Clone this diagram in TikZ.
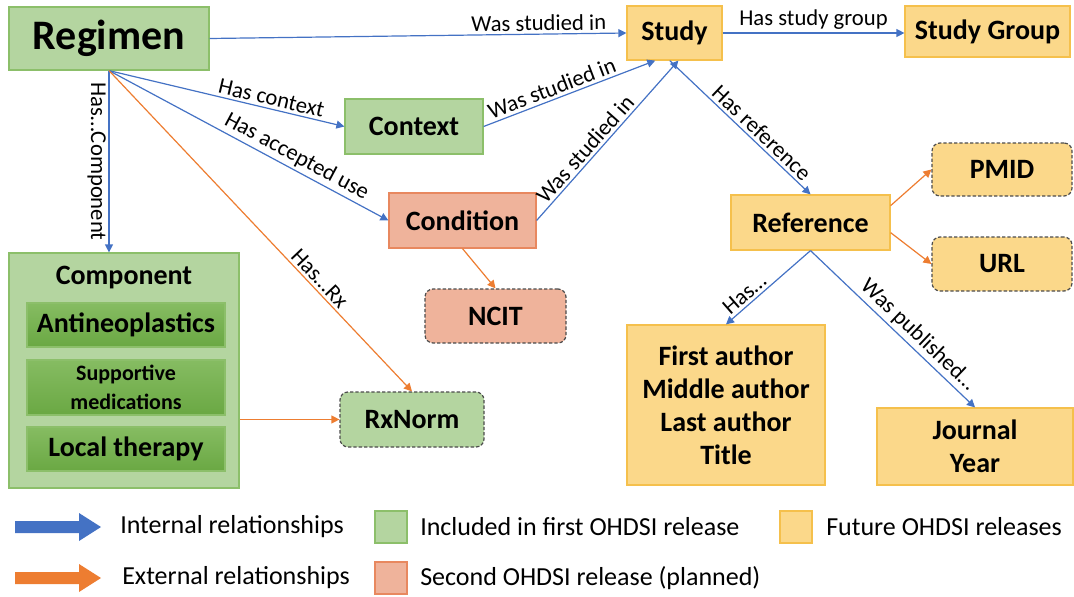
\documentclass[tikz,border=0pt]{standalone}
\usepackage{fontspec}
\setmainfont{Carlito}
\usetikzlibrary{arrows.meta,calc}
\definecolor{eblue}{HTML}{4472C4}
\definecolor{eorange}{HTML}{ED7D31}
\definecolor{gfill}{HTML}{B4D5A0}
\definecolor{gborder}{HTML}{8CBF6A}
\definecolor{gtop}{HTML}{86BC62}
\definecolor{gbot}{HTML}{6AA843}
\definecolor{yfill}{HTML}{FBD88A}
\definecolor{yborder}{HTML}{F5C04C}
\definecolor{sfill}{HTML}{EFB39B}
\definecolor{sborder}{HTML}{E8885F}
\begin{document}
\begin{tikzpicture}[x=0.75pt,y=-0.75pt,
  box/.style={draw, line width=0.9pt, inner sep=0pt, align=center,
    font=\fontsize{21}{24.75}\selectfont\bfseries},
  gbox/.style={box, fill=gfill, draw=gborder},
  ybox/.style={box, fill=yfill, draw=yborder},
  sbox/.style={box, fill=sfill, draw=sborder},
  extbox/.style={draw=black!70, dash pattern=on 2.5pt off 1.5pt, rounded corners=6pt},
  subbox/.style={box, draw=gborder, top color=gtop, bottom color=gbot,
    minimum width=148.5pt},
  lab/.style={font=\fontsize{17}{20}\selectfont, sloped, inner sep=2pt},
  iarr/.style={draw=eblue, line width=0.9pt, -{Triangle[length=6pt,width=6pt]}},
  earr/.style={draw=eorange, line width=0.9pt, -{Triangle[length=6pt,width=6pt]}},
  legtext/.style={anchor=west, inner sep=0pt, font=\fontsize{19.5}{24}\selectfont},
  legsq/.style={draw, line width=0.8pt, minimum width=24pt, minimum height=24pt, inner sep=0pt}
]
\useasboundingbox (0,0) rectangle (1074,596);

% nodes
\node[gbox, minimum width=150pt, minimum height=47.25pt,
  font=\fontsize{31.5}{36}\selectfont\bfseries] (reg) at (109,38.5) {Regimen};
\node[ybox, minimum width=71.25pt, minimum height=40.5pt] (study) at (674.5,33) {Study};
\node[ybox, minimum width=123.75pt, minimum height=38.25pt] (sg) at (987.5,31.5) {Study Group};
\node[gbox, minimum width=103.5pt, minimum height=41.25pt] (ctx) at (414,126.5) {Context};
\node[sbox, minimum width=110.25pt, minimum height=41.25pt] (cond) at (462.5,220.5) {Condition};
\node[sbox, extbox, minimum width=105.75pt, minimum height=40.5pt] (ncit) at (495.5,316) {NCIT};
\node[ybox, minimum width=119.25pt, minimum height=41.25pt] (ref) at (810.5,222.5) {Reference};
\node[ybox, extbox, minimum width=105pt, minimum height=39.75pt] (pmid) at (1002,169.5) {PMID};
\node[ybox, extbox, minimum width=105pt, minimum height=40.5pt] (url) at (1002,264) {URL};
\node[gbox, minimum width=172.5pt, minimum height=176.25pt] (comp) at (124,370.5) {};
\node[font=\fontsize{21}{24}\selectfont\bfseries, inner sep=0pt] (comptitle) at (124,278) {Component};
\node[subbox, minimum height=33pt] (anti) at (126,325) {Antineoplastics};
\node[subbox, minimum height=41.25pt, font=\fontsize{16.5}{21.75}\selectfont\bfseries] (supp) at (126,387.5) {Supportive\\medications};
\node[subbox, minimum height=33pt] (local) at (126,449) {Local therapy};
\node[gbox, extbox, minimum width=108pt, minimum height=41.25pt] (rx) at (412,419.5) {RxNorm};
\node[ybox, minimum width=148.5pt, minimum height=120pt] (auth) at (726,405) {First author\\Middle author\\Last author\\Title};
\node[ybox, minimum width=147pt, minimum height=57.75pt] (jour) at (975,446.5) {Journal\\Year};

% connectors
\draw[iarr] (reg.east) -- node[lab, above, pos=0.79] {Was studied in} (study.west);
\draw[iarr] (study.east) -- node[lab, above, pos=0.5] {Has study group} (study.east -| sg.west);
\draw[iarr] (reg.south) -- node[lab, below, pos=0.5] {Has…Component} (reg.south |- comp.north);
\draw[iarr] (reg.south) -- node[lab, above, pos=0.68] {Has context} (ctx.west);
\draw[iarr] (reg.south) -- node[lab, above, pos=0.65] {Has accepted use} (cond.west);
\draw[earr] (reg.south) -- node[lab, above, pos=0.67] {Has…Rx} (rx.north);
\draw[iarr] (ctx.east) -- node[lab, above, pos=0.42] {Was studied in} ($(study.south west)!0.3!(study.south east)$);
\draw[iarr] (cond.east) -- node[lab, above, pos=0.4] {Was studied in} ($(study.south west)!0.54!(study.south east)$);
\draw[iarr] ($(study.south west)!0.45!(study.south east)$) -- node[lab, above, pos=0.6] {Has reference} (ref.north);
\draw[earr] (cond.south) -- (ncit.north);
\draw[earr] (rx.west -| comp.east) -- (rx.west);
\draw[earr] ($(ref.north east)!0.2!(ref.south east)$) -- (pmid.west);
\draw[earr] ($(ref.north east)!0.68!(ref.south east)$) -- (url.west);
\draw[iarr] (ref.south) -- node[lab, above, pos=0.7] {Has…} (auth.north);
\draw[iarr] (ref.south) -- node[lab, above, pos=0.6] {Was published…} (jour.north);

% legend
\fill[eblue] (15,521) -- (79,521) -- (79,513) -- (101,527) -- (79,541) -- (79,533) -- (15,533) -- cycle;
\fill[eorange] (15,572) -- (79,572) -- (79,564) -- (101,578) -- (79,592) -- (79,584) -- (15,584) -- cycle;
\node[legtext] (l1) at (120,527) {Internal relationships};
\node[legtext] (l2) at (122,578) {External relationships};
\node[legsq, fill=gfill, draw=gborder] (s1) at (391,527) {};
\node[legtext] (l3) at (420,527) {Included in first OHDSI release};
\node[legsq, fill=yfill, draw=yborder] (s2) at (796,527) {};
\node[legtext] (l4) at (826,527) {Future OHDSI releases};
\node[legsq, fill=sfill, draw=sborder] (s3) at (391,578) {};
\node[legtext] (l5) at (420,578) {Second OHDSI release (planned)};
\end{tikzpicture}
\end{document}
